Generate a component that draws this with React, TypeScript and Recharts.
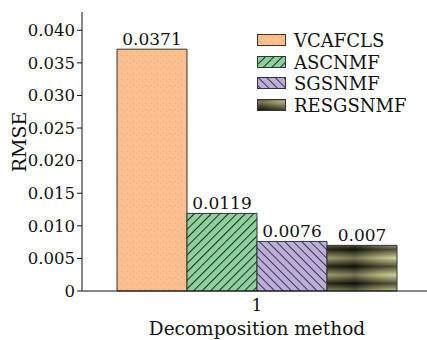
import { Bar, BarChart, LabelList, Legend, XAxis, YAxis } from 'recharts';

const categories = ['1'];
const methods = ['VCAFCLS', 'ASCNMF', 'SGSNMF', 'RESGSNMF'];
const rmseValues = [0.0371, 0.0119, 0.0076, 0.007];
const yTicks = [0, 0.005, 0.01, 0.015, 0.02, 0.025, 0.03, 0.035, 0.04];

const fills = ['url(#patOrange)', 'url(#patGreen)', 'url(#patPurple)', 'url(#patDark)'];
const FONT = '"DejaVu Serif", "Liberation Serif", serif';

const data = categories.map((name) => {
  const row: Record<string, string | number> = { name };
  methods.forEach((m, i) => {
    row[m] = rmseValues[i];
  });
  return row;
});

function LegendBox() {
  return (
    <div style={{ fontFamily: FONT, fontSize: 18, color: '#111' }}>
      {methods.map((m, i) => (
        <div key={m} style={{ display: 'flex', alignItems: 'center', height: 21.5 }}>
          <svg width={30} height={13} style={{ marginRight: 7 }}>
            <rect x={0.5} y={0.5} width={28} height={11} fill={fills[i]} stroke="#333" />
          </svg>
          <span>{m}</span>
        </div>
      ))}
    </div>
  );
}

function RmseLabel() {
  return (
    <text
      x={19}
      y={142}
      transform="rotate(-90, 19, 142)"
      textAnchor="middle"
      dominantBaseline="central"
      fill="#111"
      fontFamily={FONT}
      fontSize={19}
    >
      RMSE
    </text>
  );
}

export default function App() {
  return (
    <div
      style={{
        position: 'fixed',
        left: 0,
        top: 0,
        width: 427,
        height: 340,
        overflow: 'hidden',
        background: '#fff',
      }}
    >
      <BarChart
        width={440}
        height={340}
        data={data}
        margin={{ top: 12, right: 8, left: 0, bottom: 0 }}
        barCategoryGap="10%"
        barGap={0}
      >
        <defs>
          <pattern id="patOrange" width={6} height={6} patternUnits="userSpaceOnUse">
            <rect width={6} height={6} fill="#FBC08D" />
            <rect x={1} y={1} width={1} height={1} fill="#E9A374" />
            <rect x={4} y={3} width={1} height={1} fill="#EDAA7C" />
          </pattern>
          <pattern
            id="patGreen"
            width={6}
            height={6}
            patternUnits="userSpaceOnUse"
            patternTransform="rotate(45)"
          >
            <rect width={6} height={6} fill="#8ED09E" />
            <line x1={0.5} y1={0} x2={0.5} y2={6} stroke="#1d3324" strokeWidth={1.1} />
          </pattern>
          <pattern
            id="patPurple"
            width={6}
            height={6}
            patternUnits="userSpaceOnUse"
            patternTransform="rotate(-45)"
          >
            <rect width={6} height={6} fill="#BBAEDA" />
            <line x1={0.5} y1={0} x2={0.5} y2={6} stroke="#2e2a3a" strokeWidth={0.9} />
          </pattern>
          <linearGradient id="gradDarkV" x1="0" x2="0" y1="0" y2="1">
            <stop offset="0%" stopColor="#c9c88f" />
            <stop offset="50%" stopColor="#1b1b10" />
            <stop offset="100%" stopColor="#c9c88f" />
          </linearGradient>
          <linearGradient id="gradDarkH" x1="0" x2="1" y1="0" y2="0">
            <stop offset="0%" stopColor="#3a3a26" stopOpacity={0.3} />
            <stop offset="40%" stopColor="#000" stopOpacity={0.4} />
            <stop offset="100%" stopColor="#f0f0b0" stopOpacity={0.25} />
          </linearGradient>
          <pattern id="patDark" width={70} height={17} patternUnits="userSpaceOnUse" x={327} y={3}>
            <rect width={70} height={17} fill="url(#gradDarkV)" />
            <rect width={70} height={17} fill="url(#gradDarkH)" />
          </pattern>
        </defs>
        <XAxis
          dataKey="name"
          tickLine={false}
          axisLine={{ stroke: '#111' }}
          height={49}
          tick={{ fill: '#111', fontFamily: FONT, fontSize: 17 }}
          label={{
            value: 'Decomposition method',
            position: 'insideBottom',
            offset: 5,
            fill: '#111',
            fontFamily: FONT,
            fontSize: 18.5,
          }}
        />
        <XAxis
          xAxisId="top"
          dataKey="name"
          orientation="top"
          height={0}
          tick={false}
          tickLine={false}
          axisLine={{ stroke: '#111' }}
        />
        <YAxis
          width={82}
          domain={[0, 0.0428]}
          ticks={yTicks}
          interval={0}
          tickSize={5}
          tickLine={{ stroke: '#111' }}
          axisLine={{ stroke: '#111' }}
          tick={{ fill: '#111', fontFamily: FONT, fontSize: 16.5 }}
          tickFormatter={(v: number) => (v === 0 ? '0' : v.toFixed(3))}
          label={<RmseLabel />}
        />
        <Legend
          layout="vertical"
          verticalAlign="middle"
          align="center"
          content={() => <LegendBox />}
          wrapperStyle={{ top: 30, left: 257, width: 170 }}
        />
        {methods.map((m, i) => (
          <Bar
            key={m}
            dataKey={m}
            fill={fills[i]}
            stroke="#333"
            strokeWidth={1}
            isAnimationActive={false}
          >
            <LabelList
              dataKey={m}
              position="top"
              offset={4}
              fill="#111"
              fontFamily={FONT}
              fontSize={17}
            />
          </Bar>
        ))}
      </BarChart>
    </div>
  );
}
